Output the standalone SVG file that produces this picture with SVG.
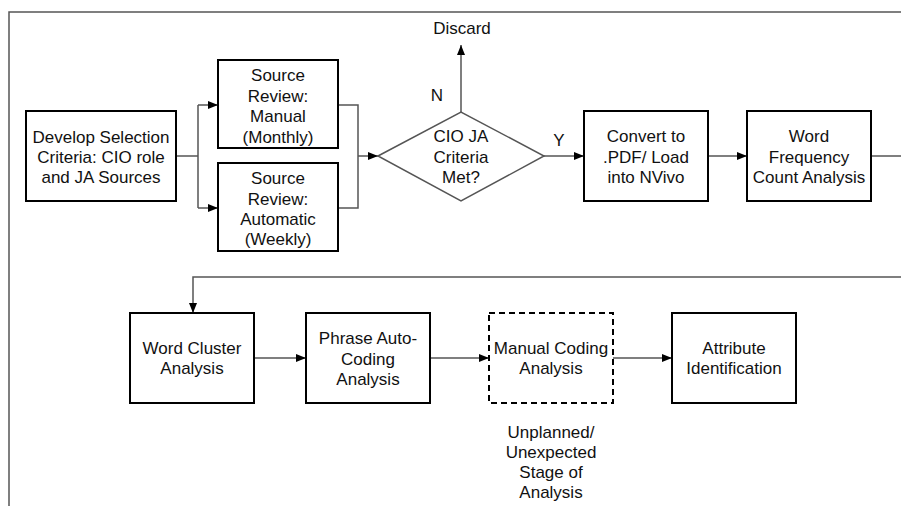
<svg xmlns="http://www.w3.org/2000/svg" width="901" height="506" viewBox="0 0 901 506">
<style>
.box{fill:#fff;stroke:#000;stroke-width:2}
.dash{fill:#fff;stroke:#000;stroke-width:2;stroke-dasharray:6,4}
.c{fill:none;stroke:#555;stroke-width:1.5}
text{font-family:"Liberation Sans",Arial,sans-serif;font-size:17px;fill:#111;text-anchor:middle}
</style>
<defs>
<marker id="ah" markerWidth="10" markerHeight="8" refX="10" refY="4" orient="auto" markerUnits="userSpaceOnUse">
<path d="M0,0 L10,4 L0,8 Z" fill="#000"/>
</marker>
</defs>
<rect width="901" height="506" fill="#fff"/>
<path class="c" d="M901,12 H9 V506"/>
<g id="connectors">
<path class="c" d="M176,156 H198"/>
<path class="c" d="M198,105 V208"/>
<path class="c" d="M198,105 H218" marker-end="url(#ah)"/>
<path class="c" d="M198,208 H218" marker-end="url(#ah)"/>
<path class="c" d="M338,105 H358 V208 H338"/>
<path class="c" d="M358,156 H378" marker-end="url(#ah)"/>
<path class="c" d="M461,112 V45" marker-end="url(#ah)"/>
<path class="c" d="M544,156 H584" marker-end="url(#ah)"/>
<path class="c" d="M708,156 H747" marker-end="url(#ah)"/>
<path class="c" d="M871,156 H901"/>
<path class="c" d="M901,277 H193 V313" marker-end="url(#ah)"/>
<path class="c" d="M254,358 H306" marker-end="url(#ah)"/>
<path class="c" d="M430,358 H489" marker-end="url(#ah)"/>
<path class="c" d="M613,358 H672" marker-end="url(#ah)"/>
<text x="462" y="34">Discard</text>
<text x="437" y="101">N</text>
<text x="559" y="146">Y</text>
</g>
<g id="develop">
<rect class="box" x="26" y="111" width="150" height="90"/>
<text x="101" y="143">Develop Selection</text>
<text x="101" y="163">Criteria: CIO role</text>
<text x="101" y="183">and JA Sources</text>
</g>
<g id="manual">
<rect class="box" x="218" y="60" width="120" height="88"/>
<text x="278" y="81">Source</text>
<text x="278" y="102">Review:</text>
<text x="278" y="122">Manual</text>
<text x="278" y="143">(Monthly)</text>
</g>
<g id="automatic">
<rect class="box" x="218" y="163" width="120" height="88"/>
<text x="278" y="184">Source</text>
<text x="278" y="205">Review:</text>
<text x="278" y="225">Automatic</text>
<text x="278" y="245">(Weekly)</text>
</g>
<g id="decision">
<path d="M378,156 L461,112 L544,156 L461,201 Z" fill="#fff" stroke="#555" stroke-width="1.5"/>
<text x="461" y="142">CIO JA</text>
<text x="461" y="163">Criteria</text>
<text x="461" y="183">Met?</text>
</g>
<g id="convert">
<rect class="box" x="584" y="111" width="124" height="90"/>
<text x="646" y="142">Convert to</text>
<text x="646" y="163">.PDF/ Load</text>
<text x="646" y="183">into NVivo</text>
</g>
<g id="wordfreq">
<rect class="box" x="747" y="111" width="124" height="90"/>
<text x="809" y="142">Word</text>
<text x="809" y="163">Frequency</text>
<text x="809" y="183">Count Analysis</text>
</g>
<g id="wordcluster">
<rect class="box" x="130" y="313" width="124" height="90"/>
<text x="192" y="354">Word Cluster</text>
<text x="192" y="374">Analysis</text>
</g>
<g id="phrase">
<rect class="box" x="306" y="313" width="124" height="90"/>
<text x="368" y="344">Phrase Auto-</text>
<text x="368" y="365">Coding</text>
<text x="368" y="385">Analysis</text>
</g>
<g id="manualcoding">
<rect class="dash" x="489" y="313" width="124" height="90"/>
<text x="551" y="354">Manual Coding</text>
<text x="551" y="374">Analysis</text>
</g>
<g id="attribute">
<rect class="box" x="672" y="313" width="124" height="90"/>
<text x="734" y="354">Attribute</text>
<text x="734" y="374">Identification</text>
</g>
<g id="note">
<text x="551" y="438">Unplanned/</text>
<text x="551" y="458">Unexpected</text>
<text x="551" y="478">Stage of</text>
<text x="551" y="498">Analysis</text>
</g>
</svg>
